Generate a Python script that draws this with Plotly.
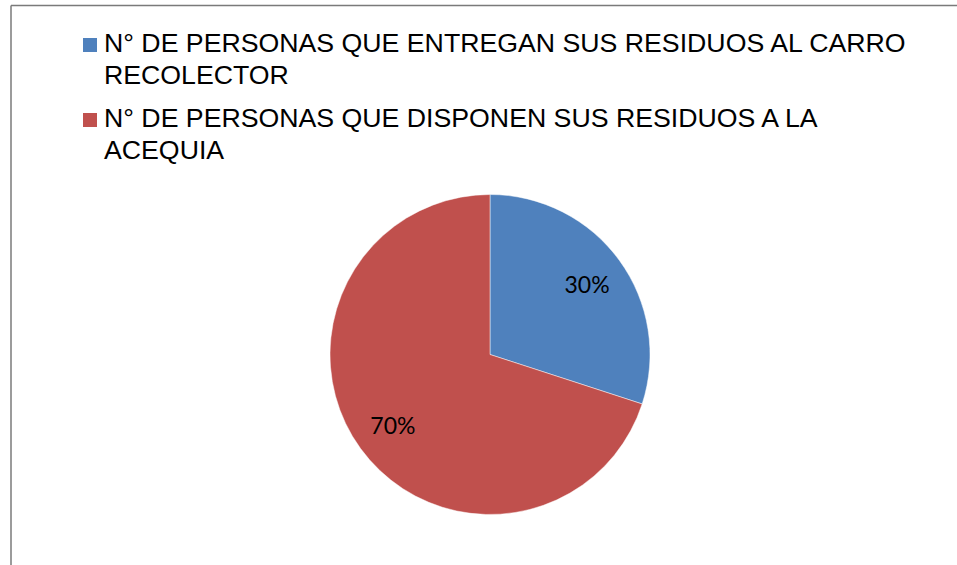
import plotly.graph_objects as go

legend_lines = [
    ["N° DE PERSONAS QUE ENTREGAN SUS RESIDUOS AL CARRO", "RECOLECTOR"],
    ["N° DE PERSONAS QUE DISPONEN SUS RESIDUOS A LA", "ACEQUIA"],
]
labels = [" ".join(l) for l in legend_lines]
values = [30, 70]
colors = ["#4F81BD", "#C0504D"]

W, H = 957, 565


def px(x):
    return x / W


def py(y):
    return 1 - y / H


domain = dict(x=[px(330), px(650)], y=[py(514.5), py(194.5)])

fig = go.Figure()
# main pie (slices)
fig.add_trace(go.Pie(
    labels=labels,
    values=values,
    sort=False,
    direction="clockwise",
    rotation=0,
    marker=dict(colors=colors, line=dict(color="rgba(255,255,255,0.6)", width=0.8)),
    textinfo="none",
    domain=domain,
    hoverinfo="skip",
    showlegend=False,
))
# transparent ring used only to place the percentage labels in the outer part of each slice
fig.add_trace(go.Pie(
    labels=labels,
    values=values,
    sort=False,
    direction="clockwise",
    rotation=0,
    hole=0.5,
    marker=dict(colors=["rgba(0,0,0,0)"] * len(values), line=dict(width=0)),
    texttemplate="%{percent:.0%}",
    textposition="inside",
    insidetextorientation="horizontal",
    textfont=dict(family="Lato", size=23, color="#000000"),
    domain=domain,
    hoverinfo="skip",
    showlegend=False,
))

shapes = [
    dict(type="line", xref="paper", yref="paper", x0=px(11), x1=1, y0=py(5.5), y1=py(5.5),
         line=dict(color="#7a7a7a", width=1.5)),
    dict(type="line", xref="paper", yref="paper", x0=px(11), x1=px(11), y0=0, y1=py(5.5),
         line=dict(color="#7a7a7a", width=1.5)),
]
annotations = []
item_tops = [38, 113]
line_pitch = 31.7
for i, lines in enumerate(legend_lines):
    top = item_tops[i]
    shapes.append(dict(type="rect", xref="paper", yref="paper",
                       x0=px(83), x1=px(97), y0=py(top + 14), y1=py(top),
                       fillcolor=colors[i], line=dict(width=0)))
    for j, t in enumerate(lines):
        annotations.append(dict(
            text=t, xref="paper", yref="paper", x=px(102), y=py(top + 5.5 + j * line_pitch),
            xanchor="left", yanchor="middle", showarrow=False,
            font=dict(family="Liberation Sans, Arial", size=26.7, color="#000000"),
        ))

fig.update_layout(
    width=W, height=H,
    margin=dict(l=0, r=0, t=0, b=0),
    paper_bgcolor="white",
    plot_bgcolor="white",
    showlegend=False,
    shapes=shapes,
    annotations=annotations,
)

fig.write_html("out.html", config={"displayModeBar": False},
               post_script="document.body.style.margin='0';")
